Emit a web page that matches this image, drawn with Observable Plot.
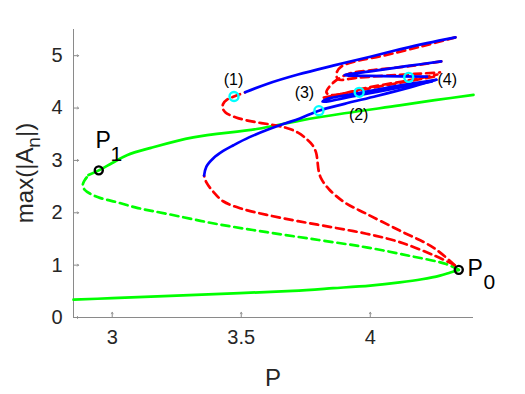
<!DOCTYPE html>
<html><head><meta charset="utf-8">
<script src="https://cdn.jsdelivr.net/npm/d3@7"></script>
<script src="https://cdn.jsdelivr.net/npm/@observablehq/plot@0.6"></script>
<style>body{margin:0;background:#fff;} svg{font-family:"Liberation Sans",Arial,sans-serif;}</style>
</head><body><div id="chart"></div>
<script>
const xTicks = [3, 3.5, 4];
const yTicks = [0, 1, 2, 3, 4, 5];
const xDomain = [2.85, 4.4];
const yDomain = [0, 5.5];

// green branch (steady states)
const greenLow = [[2.85,0.34],[3.0,0.37],[3.2,0.41],[3.47,0.46],[3.7,0.51],[3.856,0.56],[4.0,0.61],[4.114,0.67],[4.2,0.73],[4.27,0.80],[4.31,0.86],[4.343,0.91]];
const greenMid = [[4.343,0.91],[4.294,1.02],[4.15,1.18],[3.985,1.34],[3.8,1.48],[3.599,1.63],[3.4,1.79],[3.212,1.98],[3.1,2.09],[3.019,2.2],[2.955,2.28],[2.916,2.36],[2.893,2.44],[2.886,2.53],[2.893,2.62],[2.908,2.72]];
const greenUp = [[2.908,2.72],[2.948,2.81],[3.0,2.95],[3.057,3.10],[3.15,3.24],[3.314,3.44],[3.56,3.60],[3.727,3.76],[3.9,3.90],[4.114,4.05],[4.25,4.15],[4.4,4.25]];

// periodic branch: stable (blue) and unstable (red) pieces
const redLow = [[4.327,1.0],[4.25,1.18],[4.114,1.44],[3.985,1.6],[3.856,1.72],[3.72,1.84],[3.599,1.96],[3.5,2.08],[3.43,2.22],[3.392,2.40],[3.365,2.58],[3.356,2.71]];
const blueA = [[3.356,2.71],[3.365,2.88],[3.392,3.04],[3.43,3.18],[3.47,3.29],[3.53,3.44],[3.599,3.58],[3.66,3.69],[3.727,3.80],[3.801,3.95],[3.9,4.08],[4.025,4.23],[4.15,4.39],[4.256,4.54]];
const blueA2 = [[4.256,4.54],[4.1,4.42],[3.95,4.28],[3.83,4.17],[3.815,4.12],[3.95,4.24],[4.1,4.38],[4.24,4.51]];
const redUp = [[4.327,1.0],[4.243,1.34],[4.114,1.66],[3.985,1.98],[3.90,2.2],[3.84,2.45],[3.81,2.65],[3.80,2.80],[3.795,3.0],[3.79,3.15],[3.775,3.30],[3.753,3.41],[3.72,3.53],[3.676,3.62],[3.62,3.68],[3.546,3.74],[3.48,3.82],[3.438,3.92],[3.428,4.0],[3.43,4.08],[3.445,4.16],[3.472,4.22],[3.515,4.30]];
const blueB = [[3.515,4.30],[3.6,4.46],[3.72,4.64],[3.856,4.81],[4.0,4.98],[4.114,5.12],[4.22,5.24],[4.33,5.35]];
const redC = [[4.33,5.35],[4.2,5.18],[4.05,5.0],[3.95,4.9],[3.89,4.80],[3.87,4.68],[3.875,4.55],[3.95,4.58],[4.1,4.63],[4.27,4.68]];
const blueD = [[4.22,4.60],[4.05,4.61],[3.9,4.63],[4.0,4.70],[4.14,4.80],[4.275,4.89]];
const redE = [[4.275,4.89],[4.15,4.80],[4.0,4.72],[3.92,4.66],[3.86,4.50],[3.83,4.30],[3.85,4.25],[4.0,4.40],[4.15,4.53],[4.26,4.64]];
const redF = [[3.82,4.20],[3.95,4.33],[4.1,4.47],[4.25,4.60]];

const cyanPts = [{x:3.472,y:4.22,t:"(1)"},{x:3.957,y:4.30,t:"(2)"},{x:3.801,y:3.95,t:"(3)"},{x:4.149,y:4.586,t:"(4)"}];
const labelOffsets = {"(1)":[0,-17],"(2)":[0,23],"(3)":[-14,-18],"(4)":[39,3]};
const blackPts = [{x:4.343,y:0.91,t:"0"},{x:2.948,y:2.81,t:"1"}];

const GREEN="#00ff00", BLUE="#0000ff", RED="#ff0000", CYAN="#00ffff";
const lw = 2.7, dash = "8,5";
const solid = (d, c) => Plot.line(d, {x: d=>d[0], y: d=>d[1], stroke: c, strokeWidth: lw, curve: "catmull-rom"});
const dashed = (d, c) => Plot.line(d, {x: d=>d[0], y: d=>d[1], stroke: c, strokeWidth: lw, strokeDasharray: dash, curve: "catmull-rom"});

const chart = Plot.plot({
  width: 525, height: 394,
  marginLeft: 73, marginRight: 52, marginTop: 29, marginBottom: 77,
  x: {domain: xDomain},
  y: {domain: yDomain},
  style: {fontFamily: "Liberation Sans, Arial, sans-serif", color: "#262626", background: "#fff"},
  marks: [
    Plot.ruleX([xDomain[0]], {stroke: "#8a8a8a", strokeWidth: 1}),
    Plot.ruleY([yDomain[0]], {stroke: "#8a8a8a", strokeWidth: 1}),
    Plot.vector(yTicks, {y: d=>d, frameAnchor: "left", length: 5, rotate: 90, anchor: "start", stroke: "#8a8a8a", strokeWidth: 1}),
    Plot.vector(xTicks, {x: d=>d, frameAnchor: "bottom", length: 5, rotate: 0, anchor: "start", stroke: "#8a8a8a", strokeWidth: 1}),
    Plot.axisY({ticks: yTicks, tickSize: 0, tickPadding: 11, label: null, tickFormat: d=>String(d)}),
    Plot.axisX({ticks: xTicks, tickSize: 0, tickPadding: 12, label: null, tickFormat: d=>String(d)}),
    solid(greenLow, GREEN), dashed(greenMid, GREEN), solid(greenUp, GREEN),
    dashed(redLow, RED), dashed(redUp, RED),
    dashed(redC, RED), dashed(redE, RED), dashed(redF, RED),
    solid(blueA, BLUE), solid(blueA2, BLUE), solid(blueB, BLUE), solid(blueD, BLUE),
    Plot.dot(cyanPts, {x:"x", y:"y", r: 4.5, stroke: CYAN, strokeWidth: 2.4, fill: "none"}),
    Plot.dot(blackPts, {x:"x", y:"y", r: 4, stroke: "#000", strokeWidth: 2.4, fill: "none"}),
  ]
});
const xs = chart.scale("x"), ys = chart.scale("y");
const svg = d3.select(chart);
// enlarge tick labels (only axis texts exist at this point)
svg.selectAll("text").style("font-size", "20px").style("fill", "#262626");
// cyan point labels
cyanPts.forEach(p => {
  const o = labelOffsets[p.t];
  svg.append("text").attr("x", xs.apply(p.x)+o[0]).attr("y", ys.apply(p.y)+o[1]).attr("text-anchor","middle").attr("dominant-baseline","central").attr("font-size",16).attr("fill","#000").text(p.t);
});
// P labels with subscripts
blackPts.forEach(p => {
  const px = xs.apply(p.x), py = ys.apply(p.y);
  const off = p.t === "0" ? [[17,-1],[31,12]] : [[5,-30],[18,-16]];
  svg.append("text").attr("x", px+off[0][0]).attr("y", py+off[0][1]).attr("text-anchor","middle").attr("dominant-baseline","central").attr("font-size",23).attr("fill","#000").text("P");
  svg.append("text").attr("x", px+off[1][0]).attr("y", py+off[1][1]).attr("text-anchor","middle").attr("dominant-baseline","central").attr("font-size",21).attr("fill","#000").text(p.t);
});
// axis titles
svg.append("text").attr("x", 273).attr("y", 386).attr("text-anchor","middle").attr("font-size",24).attr("fill","#262626").text("P");
const yl = svg.append("text").attr("transform","translate(33,173) rotate(-90)").attr("text-anchor","middle").attr("font-size",24).attr("fill","#262626");
yl.append("tspan").text("max(|A");
yl.append("tspan").attr("dy",7).attr("font-size",19).text("n");
yl.append("tspan").attr("dy",-7).text("|)");
document.getElementById("chart").appendChild(chart);
</script></body></html>
